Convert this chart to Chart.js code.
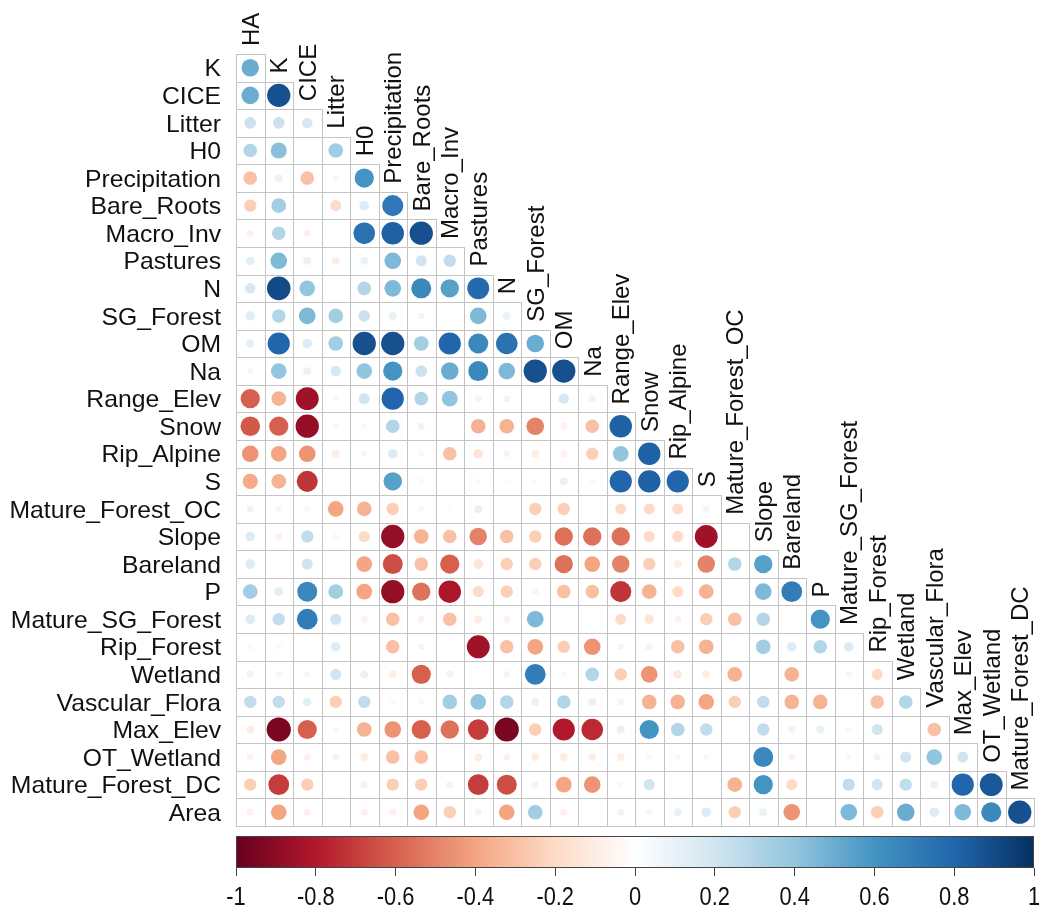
<!DOCTYPE html>
<html>
<head>
<meta charset="utf-8">
<script src="https://cdn.jsdelivr.net/npm/chart.js@4.4.1/dist/chart.umd.min.js"></script>
<style>
  html, body { margin: 0; padding: 0; background: #ffffff; }
  #wrap { width: 1045px; height: 920px; }
</style>
</head>
<body>
<div id="wrap"><canvas id="corr" width="1045" height="920"></canvas></div>
<script>
// Variable names: columns run HA..Mature_Forest_DC, rows run K..Area
const variables = ['HA', 'K', 'CICE', 'Litter', 'H0', 'Precipitation', 'Bare_Roots', 'Macro_Inv',
  'Pastures', 'N', 'SG_Forest', 'OM', 'Na', 'Range_Elev', 'Snow', 'Rip_Alpine', 'S',
  'Mature_Forest_OC', 'Slope', 'Bareland', 'P', 'Mature_SG_Forest', 'Rip_Forest', 'Wetland',
  'Vascular_Flora', 'Max_Elev', 'OT_Wetland', 'Mature_Forest_DC', 'Area'];
const columnLabels = variables.slice(0, 28);
const rowLabels = variables.slice(1);

// Lower-triangle correlations, one array per row (columns in the order above)
const corrK = [0.50];
const corrCICE = [0.50, 0.88];
const corrLitter = [0.22, 0.22, 0.18];
const corrH0 = [0.30, 0.42, 0.00, 0.35];
const corrPrecipitation = [-0.30, 0.10, -0.30, -0.06, 0.60];
const corrBareRoots = [-0.25, 0.35, 0.00, -0.20, 0.15, 0.72];
const corrMacroInv = [-0.08, 0.30, -0.08, 0.00, 0.75, 0.82, 0.88];
const corrPastures = [0.12, 0.45, 0.10, -0.10, 0.10, 0.45, 0.20, 0.25];
const corrN = [0.18, 0.90, 0.40, 0.00, 0.30, 0.45, 0.65, 0.55, 0.78];
const corrSGForest = [0.14, 0.30, 0.45, 0.35, 0.22, 0.10, -0.07, 0.00, 0.45, 0.10];
const corrOM = [0.12, 0.80, 0.15, 0.35, 0.88, 0.88, 0.35, 0.80, 0.65, 0.75, 0.50];
const corrNa = [0.06, 0.40, 0.10, 0.18, 0.40, 0.60, 0.22, 0.50, 0.65, 0.45, 0.88, 0.88];
const corrRangeElev = [-0.60, -0.35, -0.85, -0.05, 0.20, 0.80, 0.30, 0.40, 0.07, -0.08, 0.00, 0.18, 0.08];
const corrSnow = [-0.62, -0.60, -0.88, -0.05, -0.05, 0.30, 0.08, 0.00, -0.35, -0.35, -0.50, -0.08, -0.30, 0.82];
const corrRipAlpine = [-0.45, -0.40, -0.45, -0.10, -0.06, 0.15, -0.05, -0.30, -0.15, -0.07, -0.10, -0.08, -0.25, 0.40, 0.82];
const corrS = [-0.38, -0.35, -0.72, 0.00, 0.00, 0.55, 0.05, 0.00, 0.05, 0.03, 0.04, 0.10, 0.04, 0.80, 0.82, 0.80];
const corrMatureForestOC = [0.08, 0.06, 0.05, -0.40, -0.35, -0.25, 0.05, 0.03, 0.10, 0.00, -0.25, -0.25, 0.00, -0.20, -0.20, -0.20, -0.07];
const corrSlope = [0.15, -0.08, 0.25, -0.05, -0.20, -0.88, -0.35, -0.30, -0.50, -0.30, -0.25, -0.55, -0.55, -0.55, -0.20, -0.20, -0.85, 0.00];
const corrBareland = [0.15, 0.00, 0.20, 0.00, -0.40, -0.65, -0.30, -0.60, -0.15, -0.25, -0.25, -0.55, -0.40, -0.50, -0.25, -0.10, -0.50, 0.30, 0.55];
const corrP = [0.35, 0.12, 0.65, 0.35, -0.40, -0.88, -0.55, -0.82, -0.20, -0.25, 0.06, -0.30, -0.30, -0.72, -0.35, -0.20, -0.35, 0.00, 0.45, 0.70];
const corrMatureSGForest = [0.15, 0.25, 0.70, 0.20, -0.08, -0.30, -0.08, -0.30, -0.10, -0.08, 0.45, 0.00, 0.00, -0.20, -0.15, -0.08, -0.25, -0.30, 0.30, 0.00, 0.60];
const corrRipForest = [0.05, 0.05, 0.00, 0.15, 0.00, -0.30, 0.07, 0.00, -0.85, -0.30, -0.40, -0.25, -0.45, -0.07, 0.08, -0.30, -0.35, 0.00, 0.35, 0.15, 0.30, 0.15];
const corrWetland = [0.08, 0.06, 0.06, 0.20, 0.10, -0.10, -0.60, -0.08, 0.00, -0.07, 0.70, 0.05, 0.30, -0.25, -0.45, -0.12, -0.10, -0.35, 0.00, -0.35, 0.00, 0.06, -0.20];
const corrVascularFlora = [0.25, 0.25, 0.12, -0.25, 0.25, 0.04, 0.05, 0.35, 0.40, 0.30, 0.10, 0.30, 0.10, -0.07, -0.35, -0.35, -0.40, -0.25, 0.25, -0.35, -0.35, 0.00, -0.30, 0.30];
const corrMaxElev = [-0.10, -0.95, -0.60, -0.05, -0.35, -0.45, -0.60, -0.55, -0.70, -0.95, -0.25, -0.80, -0.75, 0.10, 0.60, 0.30, 0.25, 0.00, 0.25, 0.08, 0.10, 0.05, 0.20, 0.00, -0.30];
const corrOTWetland = [-0.08, -0.40, -0.08, -0.08, -0.10, -0.30, -0.30, 0.00, -0.10, -0.08, -0.10, -0.10, -0.10, -0.10, 0.05, -0.05, 0.05, 0.00, 0.65, -0.08, 0.00, 0.05, 0.08, 0.20, 0.40, 0.20];
const corrMatureForestDC = [-0.25, -0.70, -0.25, 0.00, -0.08, -0.25, -0.25, -0.08, -0.70, -0.65, -0.08, -0.40, -0.45, 0.05, 0.20, 0.00, 0.00, -0.35, 0.60, -0.20, 0.00, 0.25, 0.20, 0.25, 0.10, 0.80, 0.85];
const corrArea = [-0.08, -0.40, -0.08, 0.00, -0.08, -0.08, -0.40, -0.25, -0.08, -0.40, 0.35, -0.08, 0.00, 0.08, 0.06, 0.10, 0.15, -0.25, 0.10, -0.45, 0.00, 0.45, -0.25, 0.50, 0.15, 0.45, 0.65, 0.88];

// Colour-bar tick values
const colorbarTicks = [-1, -0.8, -0.6, -0.4, -0.2, 0, 0.2, 0.4, 0.6, 0.8, 1];

const matrixRows = [corrK, corrCICE, corrLitter, corrH0, corrPrecipitation, corrBareRoots, corrMacroInv,
  corrPastures, corrN, corrSGForest, corrOM, corrNa, corrRangeElev, corrSnow, corrRipAlpine, corrS,
  corrMatureForestOC, corrSlope, corrBareland, corrP, corrMatureSGForest, corrRipForest, corrWetland,
  corrVascularFlora, corrMaxElev, corrOTWetland, corrMatureForestDC, corrArea];

// Diverging red-blue palette, stops at -1, -0.8, ..., 1
const palette = ['#67001F', '#B2182B', '#D6604D', '#F4A582', '#FDDBC7', '#FFFFFF',
  '#D1E5F0', '#92C5DE', '#4393C3', '#2166AC', '#053061'];

function hexToRgb(h) {
  const n = parseInt(h.slice(1), 16);
  return [(n >> 16) & 255, (n >> 8) & 255, n & 255];
}
function colorFor(v) {
  const t = (Math.max(-1, Math.min(1, v)) + 1) / 2 * (palette.length - 1);
  const k = Math.min(palette.length - 2, Math.floor(t));
  const f = t - k;
  const a = hexToRgb(palette[k]), b = hexToRgb(palette[k + 1]);
  const c = a.map((x, i) => Math.round(x + (b[i] - x) * f));
  return `rgb(${c[0]},${c[1]},${c[2]})`;
}

const points = [];
matrixRows.forEach((row, i) => {
  row.forEach((v, j) => points.push({ x: j + 0.5, y: i + 0.5, v: v }));
});

const nCells = 28;
const barTop = 28.363;      // colour bar spans this band of the y scale
const yMax = 29.523;
const LABEL_SIZE = 24;
const LABEL_FONT = LABEL_SIZE + 'px "Liberation Sans", Arial, sans-serif';

function cellSize(chart) {
  const sx = chart.scales.x, sy = chart.scales.y;
  const w = sx.getPixelForValue(1) - sx.getPixelForValue(0);
  const h = Math.abs(sy.getPixelForValue(1) - sy.getPixelForValue(0));
  return Math.min(w, h);
}
function radiusFor(ctx) {
  return ctx.raw ? 0.45 * cellSize(ctx.chart) * Math.sqrt(Math.abs(ctx.raw.v)) : 0;
}

// Cell borders of the lower triangle and the colour bar
const gridPlugin = {
  id: 'corrGrid',
  beforeDatasetsDraw(chart) {
    const { ctx } = chart;
    const sx = chart.scales.x, sy = chart.scales.y, sb = chart.scales.bar;
    ctx.save();
    ctx.strokeStyle = '#c4c4c4';
    ctx.lineWidth = 1;
    for (let i = 0; i < nCells; i++) {
      for (let j = 0; j <= i; j++) {
        const x0 = Math.round(sx.getPixelForValue(j)) + 0.5;
        const x1 = Math.round(sx.getPixelForValue(j + 1)) + 0.5;
        const y0 = Math.round(sy.getPixelForValue(i)) + 0.5;
        const y1 = Math.round(sy.getPixelForValue(i + 1)) + 0.5;
        ctx.strokeRect(x0, y0, x1 - x0, y1 - y0);
      }
    }
    // colour bar
    const bx0 = sb.getPixelForValue(-1), bx1 = sb.getPixelForValue(1);
    const by0 = sy.getPixelForValue(barTop), by1 = sy.getPixelForValue(yMax);
    const grad = ctx.createLinearGradient(bx0, 0, bx1, 0);
    palette.forEach((c, k) => grad.addColorStop(k / (palette.length - 1), c));
    ctx.fillStyle = grad;
    ctx.fillRect(bx0, by0, bx1 - bx0, by1 - by0);
    ctx.strokeStyle = '#444444';
    ctx.strokeRect(Math.round(bx0) + 0.5, Math.round(by0) + 0.5, Math.round(bx1 - bx0) - 1, Math.round(by1 - by0) - 1);
    ctx.restore();
  }
};

// Row names on the left, rotated column names along the diagonal,
// and the colour-bar tick labels under the bar axis
const labelPlugin = {
  id: 'corrLabels',
  afterDraw(chart) {
    const { ctx } = chart;
    const sx = chart.scales.x, sy = chart.scales.y, sb = chart.scales.bar;
    ctx.save();
    ctx.font = LABEL_FONT;
    ctx.fillStyle = '#111111';
    ctx.textBaseline = 'alphabetic';
    const capHalf = LABEL_SIZE * 0.716 / 2;
    ctx.textAlign = 'right';
    rowLabels.forEach((name, i) => {
      ctx.save();
      ctx.translate(sx.left - 15, sy.getPixelForValue(i + 0.5) + capHalf);
      ctx.scale(1.03, 1);
      ctx.fillText(name, 0, 0);
      ctx.restore();
    });
    ctx.textAlign = 'left';
    columnLabels.forEach((name, j) => {
      const cx = sx.getPixelForValue(j + 0.5);
      const top = sy.getPixelForValue(j);
      ctx.save();
      ctx.translate(cx + capHalf, top - 8);
      ctx.rotate(-Math.PI / 2);
      ctx.fillText(name, 0, 0);
      ctx.restore();
    });
    // colour-bar tick labels
    ctx.font = '26px "Liberation Sans", Arial, sans-serif';
    ctx.textAlign = 'center';
    sb.ticks.forEach(t => {
      ctx.save();
      ctx.translate(sb.getPixelForValue(t.value), sb.bottom + 29);
      ctx.scale(0.84, 1);
      ctx.fillText(String(Math.round(t.value * 10) / 10), 0, 0);
      ctx.restore();
    });
    ctx.restore();
  }
};

new Chart(document.getElementById('corr'), {
  type: 'scatter',
  data: {
    datasets: [{
      data: points,
      pointStyle: 'circle',
      pointRadius: radiusFor,
      pointHoverRadius: radiusFor,
      pointBackgroundColor: ctx => ctx.raw ? colorFor(ctx.raw.v) : '#fff',
      pointBorderColor: ctx => ctx.raw ? colorFor(ctx.raw.v) : '#fff',
      pointBorderWidth: 0
    }]
  },
  options: {
    responsive: false,
    animation: false,
    devicePixelRatio: 1,
    events: [],
    layout: { padding: { left: 236, top: 54, right: 11, bottom: 44 } },
    plugins: { legend: { display: false }, tooltip: { enabled: false } },
    scales: {
      x: { type: 'linear', min: 0, max: nCells, display: false },
      y: { type: 'linear', min: 0, max: yMax, reverse: true, display: false },
      bar: {
        type: 'linear', position: 'bottom', min: -1, max: 1,
        afterBuildTicks: axis => { axis.ticks = colorbarTicks.map(v => ({ value: v })); },
        ticks: { display: false, autoSkip: false, maxRotation: 0 },
        grid: { display: true, drawOnChartArea: false, drawTicks: true, tickLength: 8, color: '#444444' },
        border: { display: false }
      }
    }
  },
  plugins: [gridPlugin, labelPlugin]
});
</script>
</body>
</html>
